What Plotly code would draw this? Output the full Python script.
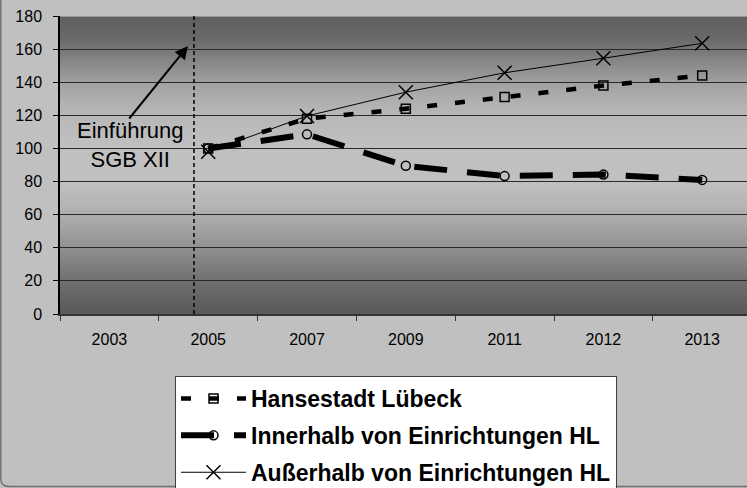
import plotly.graph_objects as go

# ---- data ----
years = ["2003", "2005", "2007", "2009", "2011", "2012", "2013"]
hansestadt = [None, 100, 118, 124, 131, 138, 144]
innerhalb = [None, 100, 108.5, 89.5, 83.3, 84.2, 81]
ausserhalb = [None, 98, 119.6, 134, 145.7, 154.5, 163.5]
series_names = ["Hansestadt Lübeck", "Innerhalb von Einrichtungen HL", "Außerhalb von Einrichtungen HL"]
y_ticks = [0, 20, 40, 60, 80, 100, 120, 140, 160, 180]
annotation_text = "Einführung<br>SGB XII"

W, H = 747, 488
ML, MT, MB, MR = 60, 16, 174, 0
PW = W - ML - MR
PH = H - MT - MB

def px_x(p):
    return (p - ML) / PW

def px_y(p):
    return (H - MB - p) / PH

fig = go.Figure()

fig.add_trace(go.Scatter(
    x=years, y=hansestadt, name=series_names[0], mode="lines+markers",
    line=dict(color="black", width=4.5, dash="10px,18px"),
    marker=dict(symbol="square-open", size=9, color="black", line=dict(width=1.5)),
    legendgroup="a",
))
fig.add_trace(go.Scatter(
    x=years, y=innerhalb, name=series_names[1], mode="lines+markers",
    line=dict(color="black", width=6, dash="33px,20px"),
    marker=dict(symbol="circle-open", size=9, color="black", line=dict(width=1.5)),
    legendgroup="b",
))
fig.add_trace(go.Scatter(
    x=years, y=ausserhalb, name=series_names[2], mode="lines+markers",
    line=dict(color="black", width=1),
    marker=dict(symbol="x-thin-open", size=14, color="black", line=dict(width=1.5, color="black")),
    legendgroup="c",
))

# ---- gradient plot background (style only) ----
stops = [(0, 0x58), (20, 0x70), (35, 0x88), (50, 0xa0), (65, 0xb4), (80, 0xc0),
         (100, 0xc0), (120, 0xb8), (135, 0xa8), (150, 0x8c), (165, 0x6c), (180, 0x5e)]

def grey_at(v):
    for (a, ca), (b, cb) in zip(stops[:-1], stops[1:]):
        if a <= v <= b:
            t = (v - a) / (b - a)
            return int(round(ca + (cb - ca) * t))
    return stops[-1][1]

shapes = []
n = 90
step = 180 / n
for i in range(n):
    y0 = i * step
    y1 = min(180, y0 + 2 * step)
    g = grey_at(y0 + step / 2)
    shapes.append(dict(type="rect", xref="paper", yref="y", x0=0, x1=1, y0=y0, y1=y1,
                       fillcolor=f"rgb({g},{g},{g})", line=dict(width=0), layer="below"))

# top border of plot area
shapes.append(dict(type="line", xref="paper", yref="y", x0=0, x1=1, y0=180, y1=180,
                   line=dict(color="#a8a8a8", width=1.5), layer="above"))
# dashed vertical line (introduction of SGB XII)
shapes.append(dict(type="line", xref="x", yref="y", x0=0.856, x1=0.856, y0=0, y1=180,
                   line=dict(color="black", width=1.5, dash="4px,3px"), layer="above"))
# outer frame (left side and bottom, rounded corner)
fx0, fx1 = px_x(0.8), px_x(800)
fyb, fyt = px_y(486.5), px_y(-20)
fr = 8
shapes.append(dict(type="path", xref="paper", yref="paper",
                   path=f"M {fx0},{fyt} L {fx0},{px_y(486.5 - fr)} Q {fx0},{fyb} {px_x(0.8 + fr)},{fyb} L {fx1},{fyb}",
                   line=dict(color="#707070", width=1.5), layer="above"))

annotations = [
    dict(x=0.2085, y=102, xref="x", yref="y", text=annotation_text, showarrow=False,
         font=dict(family="Liberation Sans, Arial, sans-serif", size=22, color="black"),
         xanchor="center", yanchor="middle", align="center"),
    dict(x=px_x(188), y=px_y(46), xref="paper", yref="paper", text="", showarrow=True,
         ax=-60, ay=74, arrowhead=2, arrowsize=1.3, arrowwidth=2, arrowcolor="black"),
]

fig.update_layout(
    width=W, height=H,
    margin=dict(l=ML, r=MR, t=MT, b=MB, autoexpand=False),
    paper_bgcolor="#c0c0c0",
    plot_bgcolor="#c0c0c0",
    font=dict(family="Liberation Sans, Arial, sans-serif", color="black", size=16),
    shapes=shapes,
    annotations=annotations,
    showlegend=True,
    legend=dict(
        x=px_x(175), y=px_y(376), xanchor="left", yanchor="top",
        bgcolor="white", bordercolor="#404040", borderwidth=1,
        font=dict(size=23, color="black", family="Liberation Sans, Arial, sans-serif", weight="bold"),
        itemwidth=65, tracegroupgap=4, traceorder="grouped",
    ),
    xaxis=dict(
        type="category", range=[-0.5, -0.5 + PW / 98.8],
        showgrid=False, showline=True, linecolor="#333333", linewidth=1.5,
        ticks="outside", tickson="boundaries", ticklen=5, tickcolor="#333333",
        ticklabelstandoff=10, tickfont=dict(size=16), zeroline=False,
    ),
    yaxis=dict(
        range=[0, 180], tickvals=y_ticks, showgrid=True, gridcolor="#2a2a2a", gridwidth=1,
        showline=True, linecolor="black", linewidth=1.5, ticks="outside", ticklen=5,
        tickcolor="black", ticklabelstandoff=8, tickfont=dict(size=16), zeroline=False,
    ),
)

fig.write_html("out.html", config={"displayModeBar": False},
               post_script="document.body.style.margin='0';")
